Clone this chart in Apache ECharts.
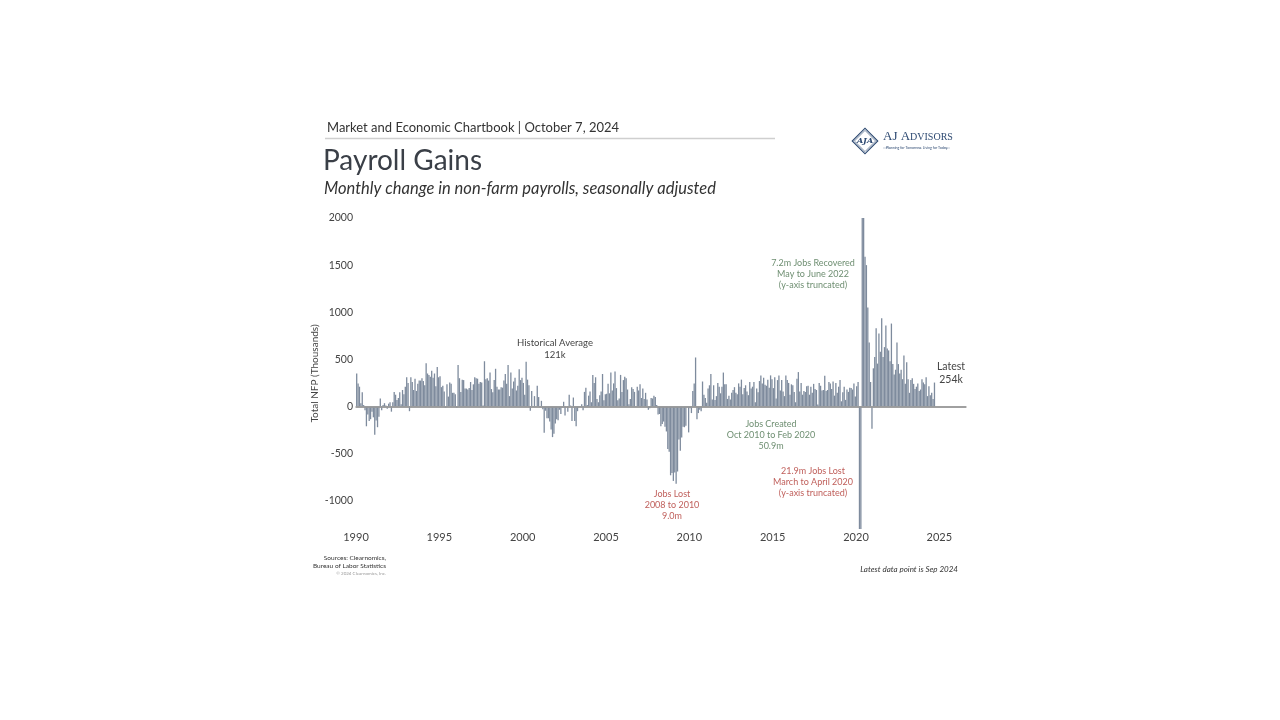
<!DOCTYPE html>
<html><head><meta charset="utf-8">
<script src="https://cdn.jsdelivr.net/npm/echarts@6/dist/echarts.min.js"></script>
<style>html,body{margin:0;background:#fff}#c{width:1280px;height:720px}</style>
</head><body><div id="c"></div><script>
// Monthly change in non-farm payrolls (thousands), Jan 1990 - Sep 2024
const startYear = 1990;
const nfp1990s = [
  350, 245, 210, 35, 150, 15, -40, -210, -85, -155, -135, -55,
  -115, -300, -150, -220, -110, 85, -40, 15, 35, 10, -25, 30,
  45, -55, 45, 155, 125, 70, 90, 150, 25, 175, 130, 210,
  310, 250, -50, 310, 260, 175, 295, 165, 240, 275, 275, 300,
  270, 225, 460, 350, 335, 315, 380, 305, 350, 215, 420, 310,
  320, 205, 220, 160, -15, 235, 105, 255, 240, 145, 145, 130,
  -15, 440, 300, 155, 285, 280, 190, 190, 180, 195, 260, 175,
  235, 310, 300, 295, 240, 260, 255, 10, 480, 290, 300, 275,
  360, 185, 150, 280, 400, 210, 180, 180, 205, 200, 275, 345,
  240, 440, 110, 360, 190, 265, 305, 170, 220, 395, 280, 305
];
const nfp2000s = [
  250, 125, 475, 285, 225, -45, 165, 5, 110, 5, 220, 100,
  -10, 60, -30, -280, -45, -125, -125, -160, -245, -325, -290, -180,
  -135, -145, -35, -80, -10, 50, -95, 0, -55, 125, 10, -155,
  95, -155, -210, -50, -5, 5, 25, -40, 155, 200, 15, 115,
  160, 45, 335, 250, 310, 80, 45, 120, 160, 345, 65, 130,
  135, 240, 140, 360, 170, 245, 370, 195, 65, 85, 335, 155,
  280, 315, 300, 180, 25, 80, 205, 185, 155, 5, 210, 170,
  235, 90, 190, 80, 145, 75, -35, -20, 90, 85, 115, 100,
  15, -85, -80, -210, -185, -160, -215, -265, -450, -480, -730, -705,
  -790, -700, -820, -690, -350, -470, -330, -215, -220, -205, -5, -275
];
const nfp2010s = [
  -20, -70, 165, 245, 520, -135, -70, -35, -50, 265, 125, 90,
  40, 190, 225, 345, 75, 225, 70, 110, 250, 210, 140, 210,
  360, 235, 235, 80, 115, 75, 145, 175, 205, 145, 130, 245,
  210, 285, 130, 195, 225, 160, 120, 260, 190, 210, 260, 45,
  190, 150, 270, 330, 245, 305, 230, 220, 285, 200, 330, 290,
  195, 310, 85, 280, 330, 170, 280, 160, 110, 330, 280, 250,
  125, 235, 225, 155, 45, 295, 365, 160, 250, 125, 165, 155,
  215, 220, 125, 210, 145, 240, 185, 175, 20, 250, 220, 170,
  175, 325, 165, 175, 260, 245, 185, 265, 115, 250, 145, 210,
  280, 55, 150, 210, 70, 180, 155, 200, 195, 180, 245, 105
];
const nfp2020s = [
  215, 260, -1375, -20475, 2725, 4780, 1590, 1500, 1050, 680, 260, -235,
  405, 525, 830, 455, 775, 580, 935, 525, 630, 860, 615, 595,
  480, 880, 450, 340, 390, 680, 450, 350, 390, 290, 540, 240,
  470, 290, 145, 280, 300, 240, 185, 210, 245, 165, 180, 290,
  255, 235, 310, 110, 215, 120, 145, 80, 254
];
const xTicks = [1990, 1995, 2000, 2005, 2010, 2015, 2020, 2025];
const yTicks = [-1000, -500, 0, 500, 1000, 1500, 2000];

const allVals = nfp1990s.concat(nfp2000s, nfp2010s, nfp2020s);
const barData = allVals.map((v, i) => [startYear + (i + 0.5) / 12, v]);

const FONT = 'Lato, "Noto Sans", sans-serif';
const GREEN = '#6f8f72';
const RED = '#c0605c';
const DARK = '#444';

function txt(text, x, y, size, fill, align, extra) {
  return {
    type: 'text',
    style: Object.assign({
      text: text, x: x, y: y, fill: fill,
      font: size + 'px ' + FONT,
      align: align || 'center', verticalAlign: 'middle',
      lineHeight: Math.round(size * 1.25)
    }, extra || {})
  };
}

const chart = echarts.init(document.getElementById('c'));
chart.setOption({
  animation: false,
  backgroundColor: '#fff',
  grid: { left: 356, right: 314, top: 218, bottom: 191 },
  xAxis: {
    type: 'value', min: 1990, max: 2026.6, interval: 5,
    axisLine: { show: true, lineStyle: { color: '#9a9a9a', width: 1.5 } },
    axisTick: { show: false }, splitLine: { show: false },
    axisLabel: {
      color: DARK, fontSize: 11, fontFamily: FONT, margin: 3,
      showMaxLabel: false,
      formatter: v => (xTicks.indexOf(Math.round(v)) >= 0 && Math.abs(v - Math.round(v)) < 1e-6) ? String(Math.round(v)) : ''
    }
  },
  yAxis: {
    type: 'value', min: -1300, max: 2000, interval: 100,
    name: 'Total NFP (Thousands)', nameLocation: 'middle', nameGap: 36,
    nameTextStyle: { color: DARK, fontSize: 10, fontFamily: FONT },
    axisLine: { show: false }, axisTick: { show: false }, splitLine: { show: false },
    axisLabel: {
      color: DARK, fontSize: 10.5, fontFamily: FONT, margin: 3,
      formatter: v => (yTicks.indexOf(Math.round(v)) >= 0) ? String(Math.round(v)) : ''
    }
  },
  series: [{
    type: 'bar',
    data: barData,
    barWidth: 1.3,
    itemStyle: { color: '#7e8b9d' },
    markLine: {
      silent: true, symbol: 'none', label: { show: false },
      lineStyle: { color: '#9a9a9a', width: 1.5, type: 'solid' },
      data: [{ yAxis: 0 }]
    }
  }],
  graphic: [
    txt('Market and Economic Chartbook | October 7, 2024', 327, 128, 13, '#333', 'left'),
    { type: 'line', shape: { x1: 325, y1: 138.5, x2: 775, y2: 138.5 }, style: { stroke: '#cfcfcf', lineWidth: 1.5 } },
    txt('Payroll Gains', 323, 161, 28, '#3a3f47', 'left'),
    txt('Monthly change in non-farm payrolls, seasonally adjusted', 324, 189, 16.5, '#333', 'left', { font: 'italic 16.5px ' + FONT }),
    // logo
    { type: 'rect', shape: { x: -9, y: -9, width: 18, height: 18 }, x: 865, y: 141, rotation: Math.PI / 4,
      style: { fill: 'none', stroke: '#2e4a72', lineWidth: 1.2 } },
    { type: 'rect', shape: { x: -7.5, y: -7.5, width: 15, height: 15 }, x: 865, y: 141, rotation: Math.PI / 4,
      style: { fill: 'none', stroke: '#2e4a72', lineWidth: 0.6 } },
    txt('AJA', 865, 141, 8, '#2e4a72', 'center', { font: 'italic bold 8px "DejaVu Serif", serif' }),
    { type: 'text', style: { x: 883, y: 137, verticalAlign: 'middle', align: 'left',
      text: '{b|AJ A}{s|DVISORS}',
      rich: { b: { fontSize: 13, fontFamily: '"Liberation Serif", serif', fill: '#2e4a72' },
              s: { fontSize: 10, fontFamily: '"Liberation Serif", serif', fill: '#2e4a72' } } } },
    { type: 'line', shape: { x1: 883, y1: 148, x2: 891, y2: 148 }, style: { stroke: '#8a9ab0', lineWidth: 0.5 } },
    txt('Planning for Tomorrow. Living for Today.', 917, 148, 3.5, '#2e4a72', 'center'),
    { type: 'line', shape: { x1: 943, y1: 148, x2: 950, y2: 148 }, style: { stroke: '#8a9ab0', lineWidth: 0.5 } },
    // annotations
    txt('Historical Average\n121k', 555, 349, 9.5, DARK),
    txt('7.2m Jobs Recovered\nMay to June 2022\n(y-axis truncated)', 813, 274, 9, GREEN),
    txt('Latest\n254k', 951, 373, 10.5, DARK),
    txt('Jobs Created\nOct 2010 to Feb 2020\n50.9m', 771, 435, 9, GREEN),
    txt('21.9m Jobs Lost\nMarch to April 2020\n(y-axis truncated)', 813, 482, 9, RED),
    txt('Jobs Lost\n2008 to 2010\n9.0m', 672, 505, 9, RED),
    // footer
    txt('Sources: Clearnomics,\nBureau of Labor Statistics', 386, 562, 6.5, '#333', 'right', { lineHeight: 8 }),
    txt('© 2024 Clearnomics, Inc.', 386, 574, 4.5, '#999', 'right'),
    txt('Latest data point is Sep 2024', 958, 569, 8, '#333', 'right', { font: 'italic 8px ' + FONT })
  ]
});
</script></body></html>
